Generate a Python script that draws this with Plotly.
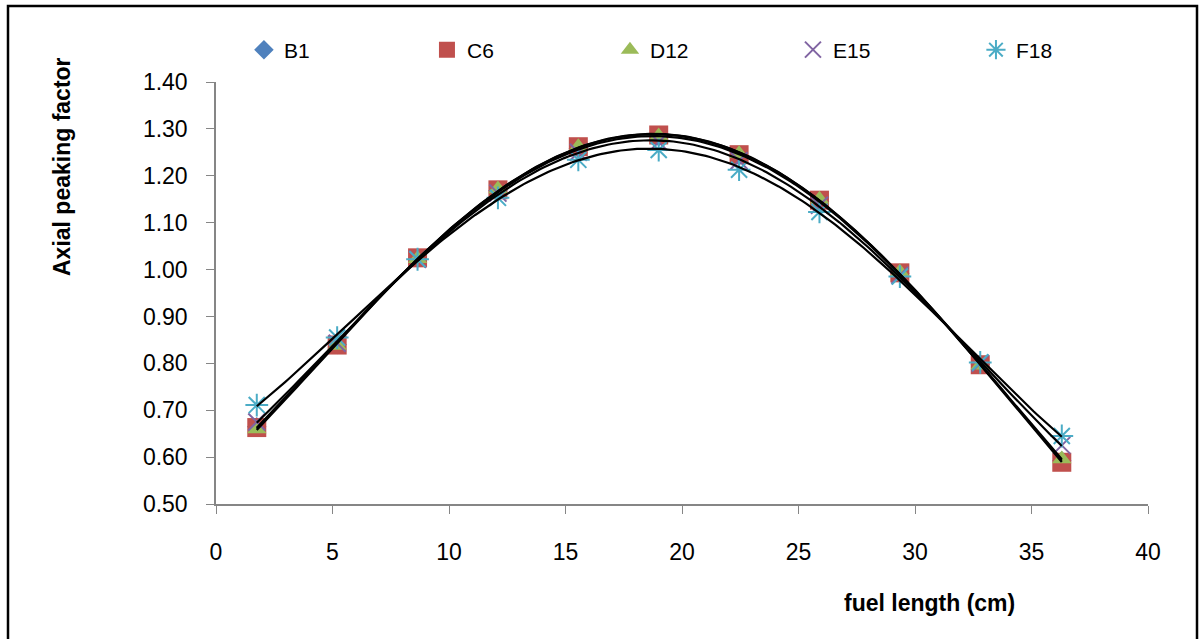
import numpy as np
import plotly.graph_objects as go

x = [1.75, 5.2, 8.65, 12.1, 15.55, 19.0, 22.45, 25.9, 29.35, 32.8, 36.3]
b1 = [0.665, 0.840, 1.024, 1.168, 1.258, 1.283, 1.242, 1.145, 0.992, 0.798, 0.592]
c6 = [0.663, 0.839, 1.025, 1.170, 1.262, 1.287, 1.245, 1.148, 0.993, 0.797, 0.589]
d12 = [0.660, 0.838, 1.023, 1.172, 1.262, 1.285, 1.247, 1.150, 0.995, 0.796, 0.596]
e15 = [0.675, 0.843, 1.022, 1.163, 1.250, 1.272, 1.232, 1.137, 0.988, 0.800, 0.625]
f18 = [0.711, 0.855, 1.022, 1.153, 1.234, 1.255, 1.213, 1.123, 0.985, 0.802, 0.645]

names = ["B1", "C6", "D12", "E15", "F18"]
series = [b1, c6, d12, e15, f18]
colors = ["#4F81BD", "#C0504D", "#9BBB59", "#8064A2", "#4BACC6"]
symbols = ["diamond", "square", "triangle-up", "x-thin-open", "asterisk-open"]
sizes = [15, 19, 17, 17, 19]

FONT = "Liberation Sans"
fig = go.Figure()

for n, s, c, sym, sz in zip(names, series, colors, symbols, sizes):
    fig.add_trace(go.Scatter(
        x=x, y=s, mode="markers", name=n,
        marker=dict(symbol=sym, size=sz, color=c,
                    line=dict(color=c, width=2) if "open" in sym else dict(width=0)),
    ))

# polynomial trendlines (order 4), black
xs = np.linspace(min(x), max(x), 200)
for s in series:
    coef = np.polyfit(x, s, 4)
    fig.add_trace(go.Scatter(x=xs, y=np.polyval(coef, xs), mode="lines",
                             line=dict(color="black", width=2.2),
                             showlegend=False, hoverinfo="skip"))

L, R, T, B = 216, 1148, 82, 504
W, H = 1200, 639
pw, ph = R - L, B - T

fig.update_layout(
    width=W, height=H,
    margin=dict(l=L, r=W - R, t=T, b=H - B),
    paper_bgcolor="white", plot_bgcolor="white",
    font=dict(family=FONT, size=21, color="black"),
    showlegend=True,
    legend=dict(orientation="h", x=0.03, xanchor="left", y=1 + (T - 50) / ph,
                yanchor="middle", entrywidth=138, entrywidthmode="pixels",
                font=dict(size=21), itemsizing="trace", traceorder="normal",
                itemwidth=30),
    xaxis=dict(range=[0, 40], tickvals=[0, 5, 10, 15, 20, 25, 30, 35, 40],
               showgrid=False, zeroline=False, showline=True, linecolor="#868686",
               linewidth=1.5, ticks="outside", ticklen=8, tickcolor="#868686",
               ticklabelstandoff=19, tickfont=dict(size=23)),
    yaxis=dict(range=[0.5, 1.4], tickvals=[0.5, 0.6, 0.7, 0.8, 0.9, 1.0, 1.1, 1.2, 1.3, 1.4],
               tickformat=".2f", showgrid=False, zeroline=False, showline=True,
               linecolor="#868686", linewidth=1.5, ticks="outside", ticklen=8,
               tickcolor="#868686", ticklabelstandoff=14, tickfont=dict(size=23)),
    annotations=[
        dict(text="<b>Axial peaking factor</b>", xref="paper", yref="paper",
             x=(62 - L) / pw, y=(B - 167) / ph, xanchor="center", yanchor="middle",
             textangle=-90, showarrow=False, font=dict(size=23, family=FONT)),
        dict(text="<b>fuel length (cm)</b>", xref="paper", yref="paper",
             x=(929 - L) / pw, y=(B - 603) / ph, xanchor="center", yanchor="middle",
             showarrow=False, font=dict(size=23, family=FONT)),
    ],
    shapes=[dict(type="rect", xref="paper", yref="paper",
                 x0=(8 - L) / pw, x1=(1197 - L) / pw,
                 y0=(B - 645) / ph, y1=(B - 6) / ph,
                 line=dict(color="black", width=2.5), fillcolor="rgba(0,0,0,0)",
                 layer="below")],
)

fig.write_html("out.html")
